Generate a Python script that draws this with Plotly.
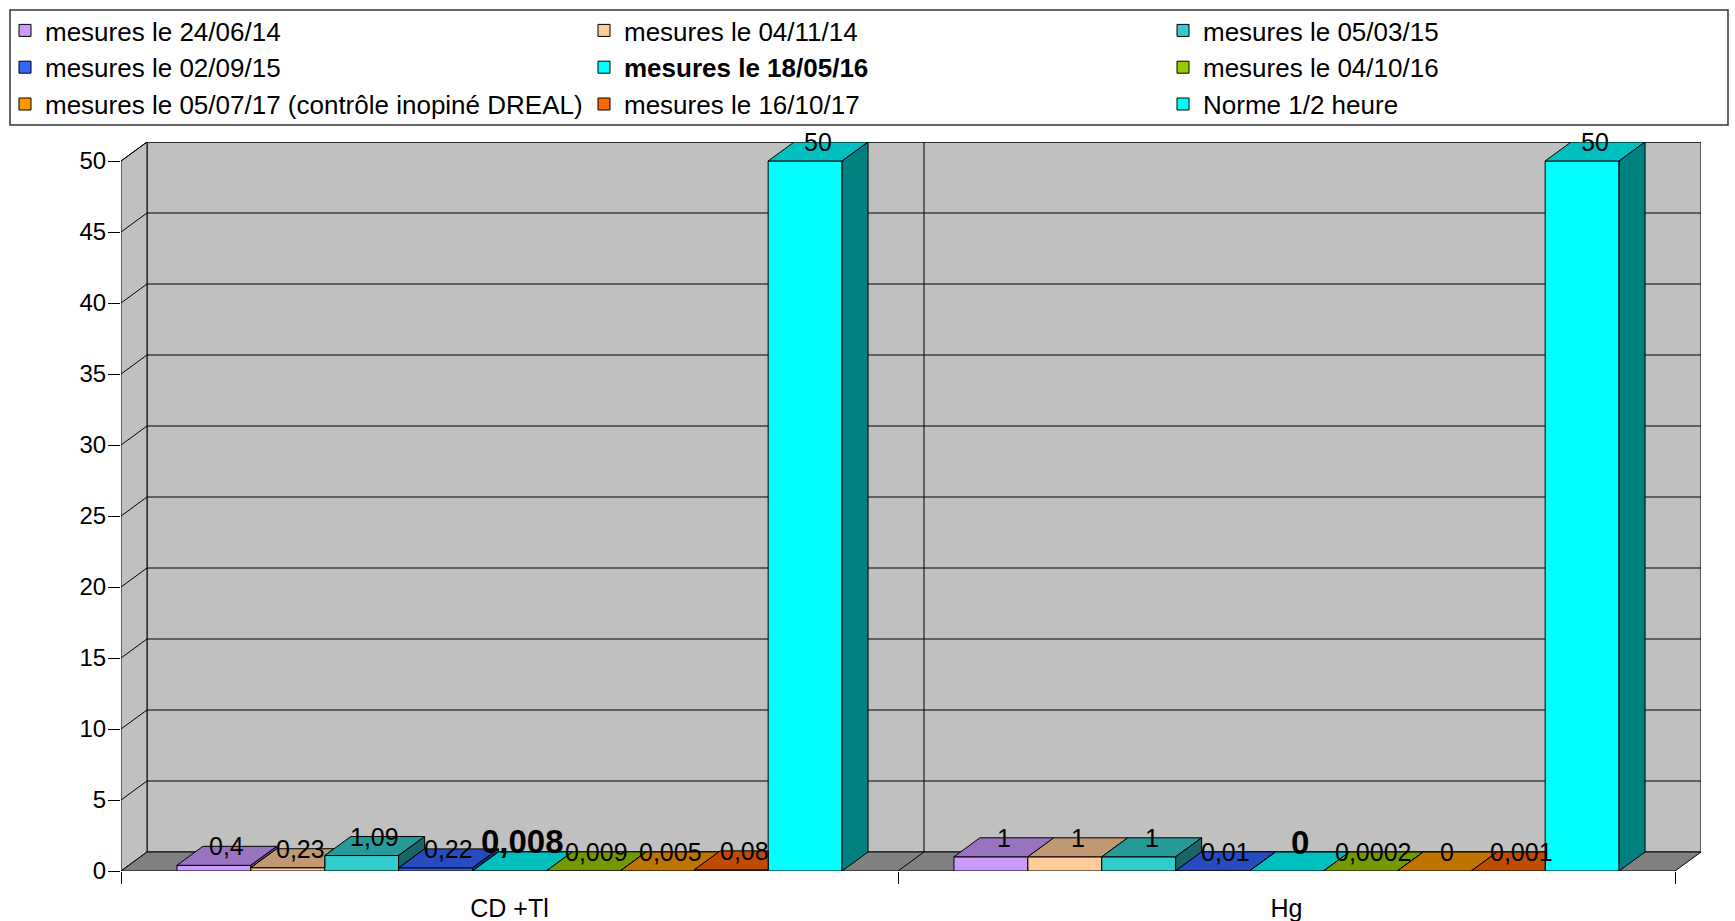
import plotly.graph_objects as go

# ---- data -------------------------------------------------------------
CATEGORIES = ["CD +Tl", "Hg"]
SERIES = [
    "mesures le 24/06/14",
    "mesures le 04/11/14",
    "mesures le 05/03/15",
    "mesures le 02/09/15",
    "mesures le 18/05/16",
    "mesures le 04/10/16",
    "mesures le 05/07/17 (contrôle inopiné DREAL)",
    "mesures le 16/10/17",
    "Norme 1/2 heure",
]
CD_TL = [0.4, 0.23, 1.09, 0.22, 0.008, 0.009, 0.005, 0.08, 50]
HG = [1, 1, 1, 0.01, 0, 0.0002, 0, 0.001, 50]
COLORS = ["#cc99ff", "#ffcc99", "#33cccc", "#3366ff", "#00ffff",
          "#99cc00", "#ff9900", "#ff6600", "#00ffff"]
HIGHLIGHT = "mesures le 18/05/16"
Y_TICKS = list(range(0, 55, 5))

# ---- geometry of the pseudo-3D box (pixels) --------------------------
W, H = 1735, 921
PLOT_LEFT, PLOT_BOTTOM = 121, 871
CAT_PX = 777            # width of one category on the front plane
Y_PX = 14.2             # pixels per value unit
DEPTH_X_PX, DEPTH_Y_PX = 26, 19
Y_MAX = 50
GAP = 0.144

DX = DEPTH_X_PX / CAT_PX
DY = DEPTH_Y_PX / Y_PX
N = len(SERIES)
BAR_W = (1 - GAP) / N

x_lo, x_hi = -0.5, len(CATEGORIES) - 0.5 + DX
y_lo, y_hi = 0, Y_MAX + DY
dom_x = [PLOT_LEFT / W, (PLOT_LEFT + CAT_PX * (x_hi - x_lo)) / W]
dom_y = [(H - PLOT_BOTTOM) / H, (H - PLOT_BOTTOM + Y_PX * (y_hi - y_lo)) / H]

FONT = "Liberation Sans, Arial, sans-serif"
WALL = "#c0c0c0"
FLOOR = "#808080"

# legend: three columns
LEG_COLS = 3
LEG_ENTRY_W = 534
LEG_LAST_COL_W = 300


def shade(hex_color, k):
    r, g, b = (int(hex_color[i:i + 2], 16) for i in (1, 3, 5))
    return "#%02x%02x%02x" % (round(r * k), round(g * k), round(b * k))


def fmt(v):
    return format(v, "g").replace(".", ",")


def path(points):
    return "M " + " L ".join(f"{x},{y}" for x, y in points) + " Z"


values = [[CD_TL[s], HG[s]] for s in range(N)]

fig = go.Figure()

# ---- front faces: real bars -------------------------------------------
for s, name in enumerate(SERIES):
    xs = [c - 0.5 + GAP / 2 + (s + 0.5) * BAR_W for c in range(len(CATEGORIES))]
    label = f"<b>{name}</b>" if name == HIGHLIGHT else name
    fig.add_trace(go.Bar(
        x=xs, y=values[s], width=BAR_W, name=label,
        marker=dict(color=COLORS[s], line=dict(color="black", width=1)),
        legendwidth=LEG_LAST_COL_W if s % LEG_COLS == LEG_COLS - 1 else LEG_ENTRY_W,
        hoverinfo="skip",
    ))

# ---- top and side faces (hidden parts clipped against the next bar) ---
for s in range(N):
    top_x, top_y, side_x, side_y = [], [], [], []
    for c in range(len(CATEGORIES)):
        x0 = c - 0.5 + GAP / 2 + s * BAR_W
        x1 = x0 + BAR_W
        v = values[s][c]
        vn = values[s + 1][c] if s + 1 < N else 0
        h = min(max(vn - v, 0), DY)
        pts = [(x0, v), (x1, v), (x1, v + h),
               (x1 + DX * (1 - h / DY), v + DY), (x0 + DX, v + DY), (x0, v)]
        top_x += [p[0] for p in pts] + [None]
        top_y += [p[1] for p in pts] + [None]
        if v > vn:
            pts = [(x1, vn), (x1 + DX, vn + DY), (x1 + DX, v + DY), (x1, v), (x1, vn)]
            side_x += [p[0] for p in pts] + [None]
            side_y += [p[1] for p in pts] + [None]
    fig.add_trace(go.Scatter(
        x=top_x, y=top_y, mode="lines", fill="toself",
        fillcolor=shade(COLORS[s], 0.75), line=dict(color="black", width=1),
        showlegend=False, hoverinfo="skip"))
    if side_x:
        fig.add_trace(go.Scatter(
            x=side_x, y=side_y, mode="lines", fill="toself",
            fillcolor=shade(COLORS[s], 0.5), line=dict(color="black", width=1),
            showlegend=False, hoverinfo="skip"))

# ---- value labels -------------------------------------------------------
annotations = []
for s, name in enumerate(SERIES):
    for c in range(len(CATEGORIES)):
        v = values[s][c]
        cx = c - 0.5 + GAP / 2 + (s + 0.5) * BAR_W + DX / 2
        bold = name == HIGHLIGHT
        annotations.append(dict(
            x=cx, y=v + DY, xref="x", yref="y",
            text=f"<b>{fmt(v)}</b>" if bold else fmt(v),
            showarrow=False, xanchor="center", yanchor="middle",
            yshift=10 if bold else 0,
            font=dict(size=33 if bold else 25, color="black", family=FONT),
        ))

# ---- walls, floor and grid ---------------------------------------------
line = dict(color="black", width=1)
xl, xr = -0.5, len(CATEGORIES) - 0.5
shapes = [
    dict(type="path", path=path([(xl + DX, DY), (xr + DX, DY), (xr + DX, Y_MAX + DY), (xl + DX, Y_MAX + DY)]),
         fillcolor=WALL, line=line, layer="below", xref="x", yref="y"),
    dict(type="path", path=path([(xl, 0), (xl + DX, DY), (xl + DX, Y_MAX + DY), (xl, Y_MAX)]),
         fillcolor=WALL, line=line, layer="below", xref="x", yref="y"),
    dict(type="path", path=path([(xl, 0), (xr, 0), (xr + DX, DY), (xl + DX, DY)]),
         fillcolor=FLOOR, line=line, layer="below", xref="x", yref="y"),
]
for t in Y_TICKS[1:]:
    shapes.append(dict(type="line", x0=xl + DX, x1=xr + DX, y0=t + DY, y1=t + DY,
                       line=line, layer="below", xref="x", yref="y"))
    shapes.append(dict(type="line", x0=xl, x1=xl + DX, y0=t, y1=t + DY,
                       line=line, layer="below", xref="x", yref="y"))
for c in range(1, len(CATEGORIES)):
    b = c - 0.5
    shapes.append(dict(type="line", x0=b + DX, x1=b + DX, y0=DY, y1=Y_MAX + DY,
                       line=line, layer="below", xref="x", yref="y"))
    shapes.append(dict(type="line", x0=b, x1=b + DX, y0=0, y1=DY,
                       line=line, layer="below", xref="x", yref="y"))

# legend frame
LEG_BOX = (10, 10, 1728, 125)
shapes.append(dict(type="rect", xref="paper", yref="paper",
                   x0=LEG_BOX[0] / W, x1=LEG_BOX[2] / W,
                   y0=1 - LEG_BOX[3] / H, y1=1 - LEG_BOX[1] / H,
                   line=dict(color="#333333", width=1.5), fillcolor="rgba(0,0,0,0)"))

fig.update_layout(
    width=W, height=H, autosize=False,
    margin=dict(l=0, r=0, t=0, b=0, autoexpand=False),
    paper_bgcolor="white", plot_bgcolor="rgba(0,0,0,0)",
    font=dict(family=FONT, color="black", size=25),
    barmode="overlay",
    showlegend=True,
    legend=dict(
        orientation="h", x=5 / W, y=1 - 7 / H, xanchor="left", yanchor="top",
        entrywidthmode="pixels",
        font=dict(size=26, family=FONT, color="black"),
        bgcolor="rgba(0,0,0,0)", borderwidth=0, traceorder="normal",
    ),
    xaxis=dict(
        domain=dom_x, range=[x_lo, x_hi], automargin=False,
        tickmode="array", tickvals=list(range(len(CATEGORIES))), ticktext=CATEGORIES,
        ticks="", ticklabelstandoff=20, tickfont=dict(size=25),
        minor=dict(tickmode="array", tickvals=[c - 0.5 for c in range(len(CATEGORIES) + 1)],
                   ticks="outside", ticklen=12, tickcolor="black", tickwidth=1, showgrid=False),
        showgrid=False, zeroline=False, showline=False, fixedrange=True,
    ),
    yaxis=dict(
        domain=dom_y, range=[y_lo, y_hi], automargin=False,
        tickmode="array", tickvals=Y_TICKS, ticks="outside", ticklen=12,
        tickcolor="black", tickwidth=1, tickfont=dict(size=24), ticklabelstandoff=-3,
        showgrid=False, zeroline=False, showline=False, fixedrange=True,
    ),
    shapes=shapes,
    annotations=annotations,
)

fig.write_html("out.html", config={"responsive": False})
